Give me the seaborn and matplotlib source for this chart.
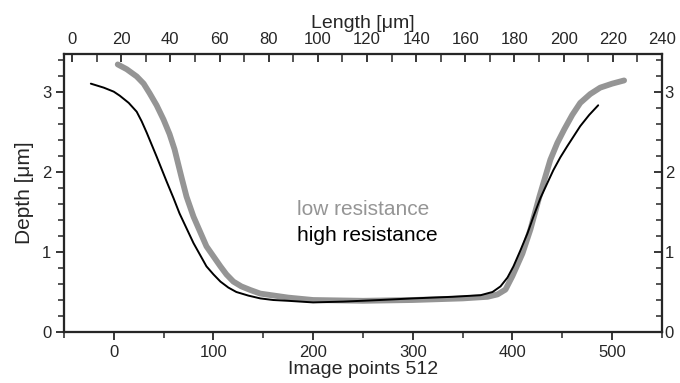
import numpy as np
import pandas as pd
import matplotlib
matplotlib.use('Agg')
import matplotlib.pyplot as plt
import seaborn as sns
from matplotlib.ticker import MultipleLocator

# depth profiles (image points vs depth in um)
low_x = [4, 13, 23, 30, 36, 43, 50, 56, 61, 68, 73, 80, 93, 107, 113, 120, 128, 137, 147,
         175, 200, 250, 300, 350, 375, 385, 393, 400, 410, 418, 427, 438, 445, 452, 460,
         468, 478, 488, 500, 512]
low_y = [3.34, 3.28, 3.19, 3.10, 2.98, 2.83, 2.65, 2.47, 2.28, 1.93, 1.69, 1.44, 1.07,
         0.82, 0.72, 0.63, 0.57, 0.525, 0.48, 0.43, 0.40, 0.39, 0.40, 0.42, 0.44, 0.47,
         0.53, 0.70, 0.98, 1.28, 1.69, 2.15, 2.36, 2.53, 2.71, 2.86, 2.97, 3.05, 3.10, 3.14]

high_x = [-23, -10, 0, 6, 15, 23, 28, 33, 43, 53, 60, 66, 80, 93, 100, 107, 115, 123, 135,
          147, 160, 175, 200, 230, 267, 300, 340, 368, 380, 388, 395, 401, 408, 415, 421,
          428, 435, 441, 448, 455, 468, 477, 486]
high_y = [3.10, 3.05, 3.00, 2.95, 2.86, 2.75, 2.63, 2.49, 2.19, 1.88, 1.67, 1.48, 1.11,
          0.82, 0.72, 0.63, 0.555, 0.50, 0.455, 0.42, 0.40, 0.39, 0.37, 0.38, 0.40, 0.42,
          0.44, 0.46, 0.50, 0.57, 0.68, 0.82, 1.02, 1.23, 1.44, 1.67, 1.86, 2.02, 2.18,
          2.32, 2.57, 2.71, 2.83]

labels = ['low resistance', 'high resistance']

sns.set_style('ticks')
plt.rcParams['font.family'] = ['Liberation Sans', 'DejaVu Sans']

fig = plt.figure(figsize=(6.8, 3.83), dpi=100)
ax = fig.add_axes([0.094, 0.133, 0.8795, 0.726])

low = pd.DataFrame({'x': low_x, 'y': low_y})
high = pd.DataFrame({'x': high_x, 'y': high_y})
sns.lineplot(data=low, x='x', y='y', sort=False, estimator=None, color='#959595', lw=4.2, ax=ax)
sns.lineplot(data=high, x='x', y='y', sort=False, estimator=None, color='black', lw=1.4, ax=ax)

ax.set_xlim(-50, 550)
ax.set_ylim(0, 3.47)
ax.xaxis.set_major_locator(MultipleLocator(100))
ax.xaxis.set_minor_locator(MultipleLocator(50))
ax.yaxis.set_major_locator(MultipleLocator(1))
ax.yaxis.set_minor_locator(MultipleLocator(0.2))
ax.tick_params(which='major', direction='out', length=6, width=1.3, labelsize=12, pad=3)
ax.tick_params(which='minor', direction='out', length=4, width=1.1)
ax.set_xlabel('Image points 512', fontsize=14, labelpad=1)
ax.set_ylabel('Depth [\u03bcm]', fontsize=15, labelpad=6)

ax.text(184, 1.53, labels[0], color='#959595', fontsize=15, va='center')
ax.text(184, 1.21, labels[1], color='black', fontsize=15, va='center')

# top axis in micrometres
top = ax.twiny()
top.set_xlim(-3.3, 240)
top.xaxis.set_major_locator(MultipleLocator(20))
top.xaxis.set_minor_locator(MultipleLocator(10))
top.tick_params(which='major', direction='in', length=6, width=1.3, labelsize=12, pad=5)
top.tick_params(which='minor', direction='in', length=6, width=1.1)
top.set_xlabel('Length [\u03bcm]', fontsize=14, labelpad=3)

# right axis mirrors depth
right = ax.twinx()
right.set_ylim(0, 3.47)
right.yaxis.set_major_locator(MultipleLocator(1))
right.yaxis.set_minor_locator(MultipleLocator(0.2))
right.tick_params(which='major', direction='in', length=6, width=1.3, labelsize=12, pad=2)
right.tick_params(which='minor', direction='in', length=4, width=1.1)

for a in (ax, top, right):
    for s in a.spines.values():
        s.set_linewidth(1.5)
        s.set_visible(True)

fig.savefig('out.png', dpi=100)
